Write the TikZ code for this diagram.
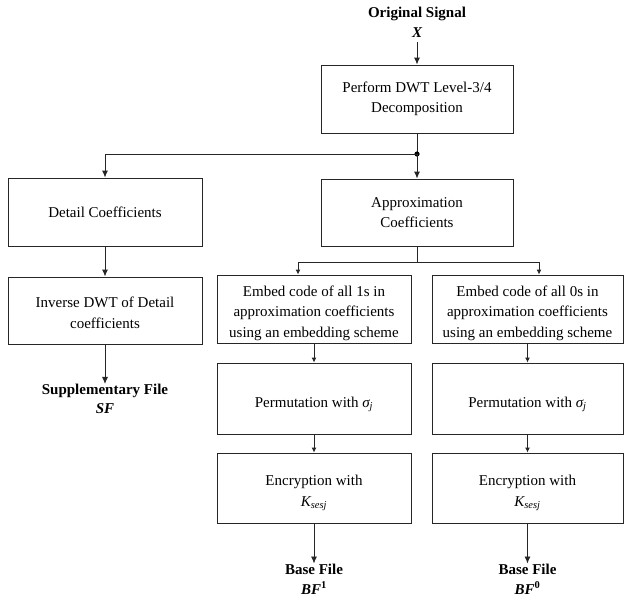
\documentclass[tikz,border=0pt]{standalone}
\usepackage{fontspec}
\setmainfont{Liberation Serif}
\usetikzlibrary{arrows.meta}
\tikzset{
  box/.style={draw=black!85, line width=0.9pt, align=center, inner sep=0pt,
    font=\fontsize{15}{20.5}\selectfont},
  txt/.style={align=center, inner sep=0pt, font=\fontsize{15}{20.5}\selectfont},
  lbl/.style={align=center, inner sep=0pt, font=\fontsize{15}{19}\selectfont\bfseries},
  conn/.style={draw=black!85, line width=0.9pt},
  arr/.style={conn, -{Latex[length=7pt,width=6pt]}},
  sarr/.style={conn, -{Latex[length=5pt,width=5pt]}},
}
\begin{document}
\begin{tikzpicture}[x=1pt,y=-1pt]
\useasboundingbox (0,0) rectangle (624,597);
% labels
\node[lbl] (orig) at (417,14) {Original Signal};
\node[lbl] (x) at (417,33) {\itshape X};
\node[lbl] (sf1) at (105,391) {Supplementary File};
\node[lbl] (sf2) at (105,409) {\itshape SF};
\node[lbl] (bf1a) at (314,569) {Base File};
\node[lbl] (bf1b) at (314,588) {\itshape BF\textsuperscript{\upshape 1}};
\node[lbl] (bf0a) at (527.5,569) {Base File};
\node[lbl] (bf0b) at (527.5,588) {\itshape BF\textsuperscript{\upshape 0}};
% boxes
\node[box, minimum width=192, minimum height=68] (dwt) at (417,99) {Perform DWT Level-3/4\\Decomposition};
\node[box, minimum width=194, minimum height=68] (det) at (105,212) {Detail Coefficients};
\node[box, minimum width=192, minimum height=67] (app) at (417,212.5) {Approximation\\Coefficients};
\node[box, minimum width=194, minimum height=67,
  label={[txt, yshift=-2.5pt]center:{Inverse DWT of Detail\\coefficients}}] (inv) at (105,310.5) {};
\node[box, minimum width=194, minimum height=68,
  label={[txt, yshift=-4pt]center:{Embed code of all 1s in\\approximation coefficients\\using an embedding scheme}}] (emb1) at (314,309) {};
\node[box, minimum width=191, minimum height=68,
  label={[txt, yshift=-4pt]center:{Embed code of all 0s in\\approximation coefficients\\using an embedding scheme}}] (emb0) at (527.5,309) {};
\node[box, minimum width=194, minimum height=71,
  label={[txt, yshift=-6pt]center:{Permutation with \textit{σ\textsubscript{j}}}}] (per1) at (314,398.5) {};
\node[box, minimum width=191, minimum height=71,
  label={[txt, yshift=-6pt]center:{Permutation with \textit{σ\textsubscript{j}}}}] (per0) at (527.5,398.5) {};
\node[box, minimum width=194, minimum height=70,
  label={[txt, yshift=-5pt]center:{Encryption with\\\textit{K\textsubscript{sesj}}}}] (enc1) at (314,488) {};
\node[box, minimum width=191, minimum height=70,
  label={[txt, yshift=-5pt]center:{Encryption with\\\textit{K\textsubscript{sesj}}}}] (enc0) at (527.5,488) {};
% connectors
\coordinate (xs) at (417,42);
\coordinate (jn) at (417,154);
\coordinate (jl) at (105,154);
\coordinate (br) at (417,262);
\coordinate (brl) at (298,262);
\coordinate (brr) at (539,262);
\draw[arr] (xs) -- (dwt.north);
\draw[conn] (dwt.south) -- (jn);
\fill[black] (jn) circle (2.6);
\draw[arr] (jn) -- (jl) -- (det.north);
\draw[arr] (jn) -- (app.north);
\draw[arr] (det.south) -- (inv.north);
\draw[arr] (inv.south) -- (sf1.north);
\draw[conn] (app.south) -- (br);
\draw[sarr] (br) -- (brl) -- (brl |- emb1.north);
\draw[sarr] (br) -- (brr) -- (brr |- emb0.north);
\draw[sarr] (emb1.south) -- (per1.north);
\draw[sarr] (emb0.south) -- (per0.north);
\draw[sarr] (per1.south) -- (enc1.north);
\draw[sarr] (per0.south) -- (enc0.north);
\draw[arr] (enc1.south) -- (bf1a.north);
\draw[arr] (enc0.south) -- (bf0a.north);
\end{tikzpicture}
\end{document}
